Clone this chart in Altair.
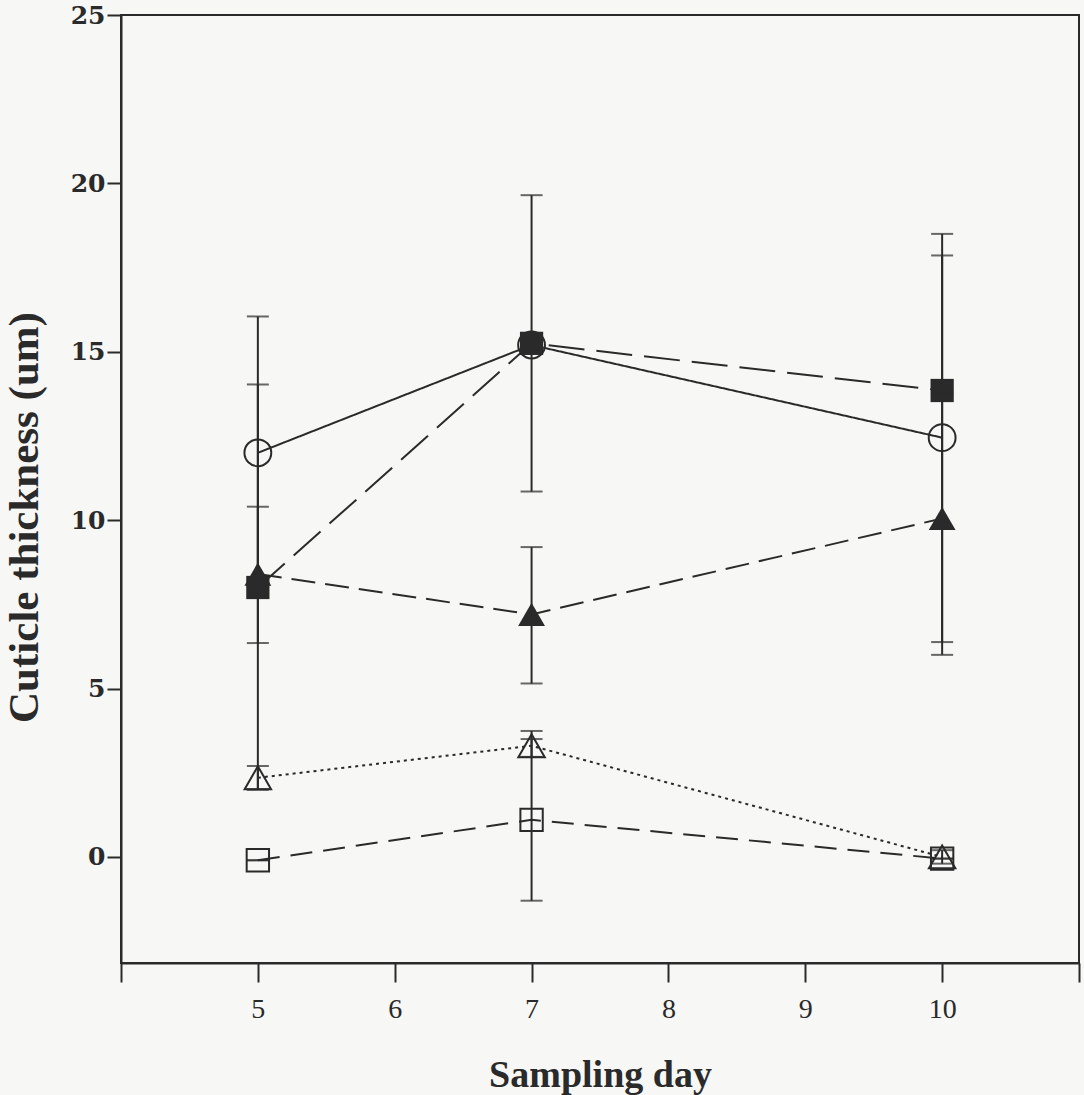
import altair as alt
import pandas as pd

# ---- data ----
days = [5, 7, 10]

series_names = ["Control", "Ja", "Ja+Ca", "Ja.1x", "Ja.Ca+CaCl2"]

control_mean = [12.0, 15.2, 12.45]
control_lo = [8.0, 15.2, 6.0]
control_hi = [16.05, 15.2, 17.86]

ja_mean = [8.0, 15.25, 13.85]
ja_lo = [2.0, 10.85, 13.85]
ja_hi = [14.03, 19.65, 18.5]

tri_f_mean = [8.4, 7.2, 10.05]
tri_f_lo = [6.35, 5.15, 6.38]
tri_f_hi = [10.4, 9.2, 13.75]

tri_o_mean = [2.35, 3.3, 0.0]
tri_o_lo = [2.0, 2.97, -0.2]
tri_o_hi = [2.7, 3.74, 0.2]

sq_o_mean = [-0.1, 1.1, -0.05]
sq_o_lo = [-0.1, -1.3, -0.05]
sq_o_hi = [-0.1, 3.5, -0.05]

y_ticks = [0, 5, 10, 15, 20, 25]
x_ticks = [4, 5, 6, 7, 8, 9, 10, 11]

series_data = [
    (series_names[0], control_mean, control_lo, control_hi),
    (series_names[1], ja_mean, ja_lo, ja_hi),
    (series_names[2], sq_o_mean, sq_o_lo, sq_o_hi),
    (series_names[3], tri_f_mean, tri_f_lo, tri_f_hi),
    (series_names[4], tri_o_mean, tri_o_lo, tri_o_hi),
]

# styles (kept separate from the data)
styles = {
    series_names[0]: dict(shape="circle", filled=False, size=720, dash=[1, 0]),
    series_names[1]: dict(shape="square", filled=True, size=540, dash=[36, 12]),
    series_names[2]: dict(shape="square", filled=False, size=500, dash=[22, 11]),
    series_names[3]: dict(shape="triangle-up", filled=True, size=720, dash=[24, 10]),
    series_names[4]: dict(shape="triangle-up", filled=False, size=700, dash=[3, 4]),
}

rows = []
for name, mean, lo, hi in series_data:
    for d, m, l, h in zip(days, mean, lo, hi):
        rows.append({"series": name, "day": d, "value": m, "lo": l, "hi": h})
df = pd.DataFrame(rows)

INK = "#2a2a2a"

xscale = alt.Scale(domain=[4, 11], nice=False, zero=False)
yscale = alt.Scale(domain=[-3.15, 25], nice=False, zero=False)

xaxis = alt.Axis(
    values=x_ticks,
    labelExpr="datum.value >= 5 && datum.value <= 10 ? datum.label : ''",
    title="Sampling day",
    grid=False,
    tickSize=19,
    tickWidth=2,
    tickColor=INK,
    domainColor=INK,
    domainWidth=2,
    labelFont="Liberation Serif",
    labelFontSize=28,
    labelColor=INK,
    labelPadding=13,
    titleFont="Liberation Serif",
    titleFontWeight="bold",
    titleFontSize=38,
    titleColor=INK,
    titleY=112,
    titleBaseline="middle",
)
yaxis = alt.Axis(
    values=y_ticks,
    title="Cuticle thickness (um)",
    grid=False,
    tickSize=14,
    tickWidth=2,
    tickColor=INK,
    domainColor=INK,
    domainWidth=2,
    labelFont="DejaVu Serif",
    labelFontWeight="bold",
    labelFontSize=25,
    labelColor=INK,
    labelPadding=2,
    titleFont="Liberation Serif",
    titleFontWeight="bold",
    titleFontSize=43,
    titleColor=INK,
    titleAngle=270,
    titleX=-97,
    titleY=502,
    titleAlign="center",
    titleBaseline="middle",
)

X = alt.X("day:Q", scale=xscale, axis=xaxis)


def Y(field):
    return alt.Y(f"{field}:Q", scale=yscale, axis=yaxis)


layers = []
for name, _, _, _ in series_data:
    st = styles[name]
    base = alt.Chart(df).transform_filter(alt.datum.series == name)
    line = base.mark_line(color=INK, strokeWidth=2, strokeDash=st["dash"]).encode(
        x=X, y=Y("value")
    )
    rule = base.mark_rule(color=INK, strokeWidth=2).encode(x=X, y=Y("lo"), y2="hi:Q")
    cap_lo = base.mark_tick(orient="horizontal", size=22, thickness=2, color=INK).encode(
        x=X, y=Y("lo")
    )
    cap_hi = base.mark_tick(orient="horizontal", size=22, thickness=2, color=INK).encode(
        x=X, y=Y("hi")
    )
    pts = base.mark_point(
        shape=st["shape"],
        filled=st["filled"],
        size=st["size"],
        color=INK,
        strokeWidth=2,
        opacity=1,
    ).encode(x=X, y=Y("value"))
    layers.extend([line, rule, cap_lo, cap_hi, pts])

chart = (
    alt.layer(*layers)
    .properties(
        width=958,
        height=948,
        autosize=alt.AutoSizeParams(type="none"),
        padding={"left": 121, "top": 15, "right": 5, "bottom": 132},
        background="#f7f7f5",
    )
    .configure_view(stroke=INK, strokeWidth=2)
)

chart.save("out.html", embed_options={"renderer": "svg", "actions": False})
